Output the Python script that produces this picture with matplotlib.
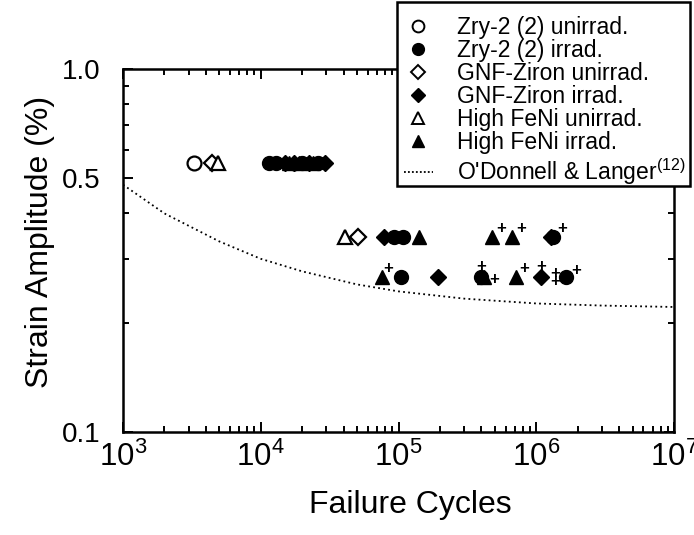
import matplotlib
matplotlib.use("Agg")
import matplotlib.pyplot as plt
from matplotlib.lines import Line2D
from matplotlib.patches import Rectangle
from matplotlib.ticker import LogLocator, NullFormatter, FixedLocator

plt.rcParams['font.family'] = ['Liberation Sans', 'DejaVu Sans']
plt.rcParams['mathtext.fontset'] = 'custom'
plt.rcParams['mathtext.rm'] = 'Liberation Sans'
plt.rcParams['mathtext.it'] = 'Liberation Sans'

# ---- data ----
zry_unirr_N = [3300]
zry_unirr_S = [0.55]
zry_irr_N = [11500, 13000, 20000, 26000, 93000, 108000, 1330000, 105000, 400000, 1650000]
zry_irr_S = [0.55, 0.55, 0.55, 0.55, 0.345, 0.345, 0.345, 0.267, 0.267, 0.267]
gnf_unirr_N = [4400, 50500]
gnf_unirr_S = [0.55, 0.345]
gnf_irr_N = [15000, 17500, 22500, 29500, 78000, 1280000, 192000, 1090000]
gnf_irr_S = [0.55, 0.55, 0.55, 0.55, 0.345, 0.345, 0.267, 0.267]
fe_unirr_N = [4900, 40600]
fe_unirr_S = [0.55, 0.345]
fe_irr_N = [16000, 19000, 24000, 142000, 480000, 670000, 75300, 415000, 716000]
fe_irr_S = [0.55, 0.55, 0.55, 0.345, 0.345, 0.345, 0.267, 0.267, 0.267]

# run-out marks ("+") : positions and offsets in points
runout_N = [480000, 670000, 1330000, 75300, 400000, 400000, 716000, 1090000, 1380000, 1380000, 1650000]
runout_S = [0.345, 0.345, 0.345, 0.267, 0.267, 0.267, 0.267, 0.267, 0.267, 0.267, 0.267]
runout_dx = [6, 6, 6, 5, 0, 9, 6, 0, 0, 0, 7]
runout_dy = [6, 6, 6, 6, 8, -2, 6, 8, 3, -3, 5]

# O'Donnell & Langer curve
odl_N = [1e3, 2e3, 5e3, 1e4, 2e4, 5e4, 1e5, 3e5, 1e6, 3e6, 1e7]
odl_S = [0.48, 0.40, 0.335, 0.300, 0.277, 0.255, 0.244, 0.233, 0.226, 0.223, 0.221]

xticks = [1e3, 1e4, 1e5, 1e6, 1e7]
xticklabels = [r'$\mathregular{10^{3}}$', r'$\mathregular{10^{4}}$', r'$\mathregular{10^{5}}$',
               r'$\mathregular{10^{6}}$', r'$\mathregular{10^{7}}$']
yticks = [0.1, 0.5, 1.0]
yticklabels = ['0.1', '0.5', '1.0']

W, H = 694, 535
fig = plt.figure(figsize=(W / 100, H / 100), dpi=100)
ax = fig.add_axes([123 / W, 1 - 432 / H, (674 - 123) / W, (432 - 69) / H])
ax.set_xscale('log')
ax.set_yscale('log')
ax.set_xlim(1e3, 1e7)
ax.set_ylim(0.1, 1.0)

ms = 10
mew = 1.6
ax.plot(odl_N, odl_S, color='black', lw=1.3, ls=(0, (1, 1.8)), zorder=2)
ax.plot(zry_unirr_N, zry_unirr_S, 'o', ms=ms, mfc='white', mec='black', mew=mew, ls='none')
ax.plot(zry_irr_N, zry_irr_S, 'o', ms=ms, mfc='black', mec='black', ls='none')
ax.plot(gnf_unirr_N, gnf_unirr_S, 'D', ms=ms * 0.85, mfc='white', mec='black', mew=mew, ls='none')
ax.plot(gnf_irr_N, gnf_irr_S, 'D', ms=ms * 0.85, mfc='black', mec='black', ls='none')
ax.plot(fe_unirr_N, fe_unirr_S, '^', ms=ms * 1.05, mfc='white', mec='black', mew=mew, ls='none')
ax.plot(fe_irr_N, fe_irr_S, '^', ms=ms * 1.05, mfc='black', mec='black', ls='none')

for n, s, dx, dy in zip(runout_N, runout_S, runout_dx, runout_dy):
    ax.annotate('+', (n, s), xytext=(dx, dy), textcoords='offset points',
                ha='center', va='center', fontsize=12, fontweight='bold')

for sp in ax.spines.values():
    sp.set_linewidth(1.8)

ax.xaxis.set_major_locator(FixedLocator(xticks))
ax.set_xticklabels(xticklabels)
ax.xaxis.set_minor_locator(LogLocator(base=10, subs=range(2, 10)))
ax.xaxis.set_minor_formatter(NullFormatter())
ax.yaxis.set_major_locator(FixedLocator(yticks))
ax.set_yticklabels(yticklabels)
ax.yaxis.set_minor_locator(LogLocator(base=10, subs=range(2, 10)))
ax.yaxis.set_minor_formatter(NullFormatter())

ax.tick_params(which='both', direction='in', top=True, right=True, width=1.4)
ax.tick_params(which='major', length=7)
ax.tick_params(which='minor', length=4)
ax.tick_params(axis='x', which='major', labelsize=22.5, pad=7)
ax.tick_params(axis='y', which='major', labelsize=20, pad=16)

fig.text(40 / W, 1 - 242 / H, 'Strain Amplitude (%)', rotation=90, ha='center', va='center',
         fontsize=23)
fig.text(410 / W, 1 - 505 / H, 'Failure Cycles', ha='center', va='center', fontsize=23)

# legend frame
frame = Rectangle((397 / W, 1 - 186 / H), (690 - 397) / W, (186 - 2) / H,
                  transform=fig.transFigure, facecolor='white', edgecolor='black',
                  linewidth=1.8, zorder=9)
fig.patches.append(frame)

marker_handles = [
    Line2D([], [], marker='o', ls='none', ms=8.5, mfc='white', mec='black', mew=1.4),
    Line2D([], [], marker='o', ls='none', ms=8.5, mfc='black', mec='black'),
    Line2D([], [], marker='D', ls='none', ms=7.5, mfc='white', mec='black', mew=1.4),
    Line2D([], [], marker='D', ls='none', ms=7.5, mfc='black', mec='black'),
    Line2D([], [], marker='^', ls='none', ms=8.5, mfc='white', mec='black', mew=1.4),
    Line2D([], [], marker='^', ls='none', ms=8.5, mfc='black', mec='black'),
]
marker_labels = ['Zry-2 (2) unirrad.', 'Zry-2 (2) irrad.', 'GNF-Ziron unirrad.', 'GNF-Ziron irrad.',
                 'High FeNi unirrad.', 'High FeNi irrad.']
leg1 = fig.legend(marker_handles, marker_labels, loc='upper left',
                  bbox_to_anchor=(404 / W, 1 - 16 / H), fontsize=16.5, frameon=False,
                  handlelength=1.25, handletextpad=1.05, labelspacing=0.0, borderpad=0,
                  borderaxespad=0)
leg1.set_zorder(10)

line_handles = [Line2D([], [], color='black', lw=1.3, ls=(0, (1, 1.2)))]
line_labels = [r"O'Donnell & Langer$^{\mathregular{(12)}}$"]
leg2 = fig.legend(line_handles, line_labels, loc='center left',
                  bbox_to_anchor=(404 / W, 1 - 172 / H), fontsize=16.5, frameon=False,
                  handlelength=1.25, handletextpad=1.05, borderpad=0, borderaxespad=0)
leg2.set_zorder(10)

fig.savefig('out.png', dpi=100)
